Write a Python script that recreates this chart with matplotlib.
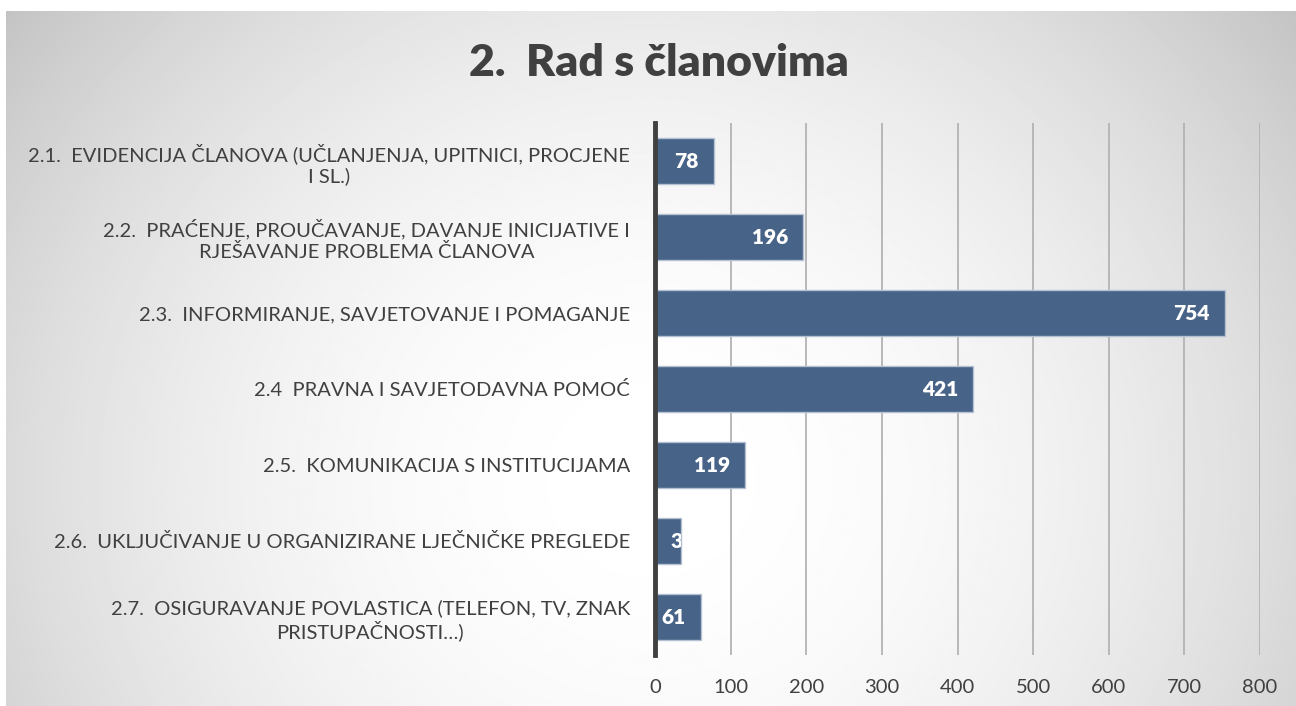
import numpy as np
import matplotlib.pyplot as plt

categories = [
    "2.1.  EVIDENCIJA ČLANOVA (UČLANJENJA, UPITNICI, PROCJENE\nI SL.)",
    "2.2.  PRAĆENJE, PROUČAVANJE, DAVANJE INICIJATIVE I\nRJEŠAVANJE PROBLEMA ČLANOVA",
    "2.3.  INFORMIRANJE, SAVJETOVANJE I POMAGANJE",
    "2.4  PRAVNA I SAVJETODAVNA POMOĆ",
    "2.5.  KOMUNIKACIJA S INSTITUCIJAMA",
    "2.6.  UKLJUČIVANJE U ORGANIZIRANE LJEČNIČKE PREGLEDE",
    "2.7.  OSIGURAVANJE POVLASTICA (TELEFON, TV, ZNAK\nPRISTUPAČNOSTI…)",
]
values = [78, 196, 754, 421, 119, 34, 61]
xticks = [0, 100, 200, 300, 400, 500, 600, 700, 800]
title = "2.  Rad s članovima"

plt.rcParams['font.family'] = ['Lato', 'DejaVu Sans']

fig = plt.figure(figsize=(12.96, 7.06), dpi=100)

# radial gradient background, light in the lower middle, grey at the edges
bg = fig.add_axes([6 / 1296, 0, 1290 / 1296, 695 / 706], zorder=-2)
yy, xx = np.mgrid[-1:1:400j, -1:1:700j]
r2 = (xx * 0.95) ** 2 + ((yy - 0.35) * 0.55) ** 2
shade = np.clip(1.0 - 0.16 * r2, 0.75, 1)
bg.imshow(shade, cmap='gray', vmin=0, vmax=1, aspect='auto', extent=[0, 1, 0, 1])
bg.axis('off')

ax = fig.add_axes([655 / 1296, 51 / 706, 605 / 1296, 532 / 706])
ax.set_facecolor('none')
y = np.arange(len(categories))
bars = ax.barh(y, values, height=0.6, color='#476387', edgecolor='#b4c1d2',
               linewidth=1, zorder=3)
ax.set_xlim(0, 800)
ax.set_ylim(len(categories) - 0.5, -0.5)
ax.set_xticks(xticks)
ax.set_yticks(y)
ax.set_yticklabels(categories, fontsize=14.5, color='#404040', multialignment='center')
ax.tick_params(axis='both', length=0, colors='#404040', labelsize=14.5)
ax.tick_params(axis='y', pad=18)
ax.tick_params(axis='x', pad=17)
ax.grid(axis='x', color='#b3b3b3', linewidth=1.3, zorder=0)
for s in ['top', 'right', 'bottom']:
    ax.spines[s].set_visible(False)
ax.spines['left'].set_color('#404040')
ax.spines['left'].set_linewidth(3.5)
ax.spines['left'].set_zorder(4)

for b, v in zip(bars, values):
    yc = b.get_y() + b.get_height() / 2
    if v < 50:
        # label too wide for the short bar: only the part inside the bar shows
        t = ax.annotate(str(v), (v, yc), xytext=(-7.5, 0), textcoords='offset points',
                        ha='left', va='center', color='white', fontweight='heavy',
                        fontsize=15, zorder=5)
        t.set_clip_path(b)
    else:
        ax.annotate(str(v), (v, yc), xytext=(-11, 0), textcoords='offset points',
                    ha='right', va='center', color='white', fontweight='heavy',
                    fontsize=15, zorder=5)

fig.text(659 / 1296, 1 - 63 / 706, title, ha='center', va='center',
         fontsize=32, fontweight='heavy', color='#404040')

fig.savefig('out.png', dpi=100)
